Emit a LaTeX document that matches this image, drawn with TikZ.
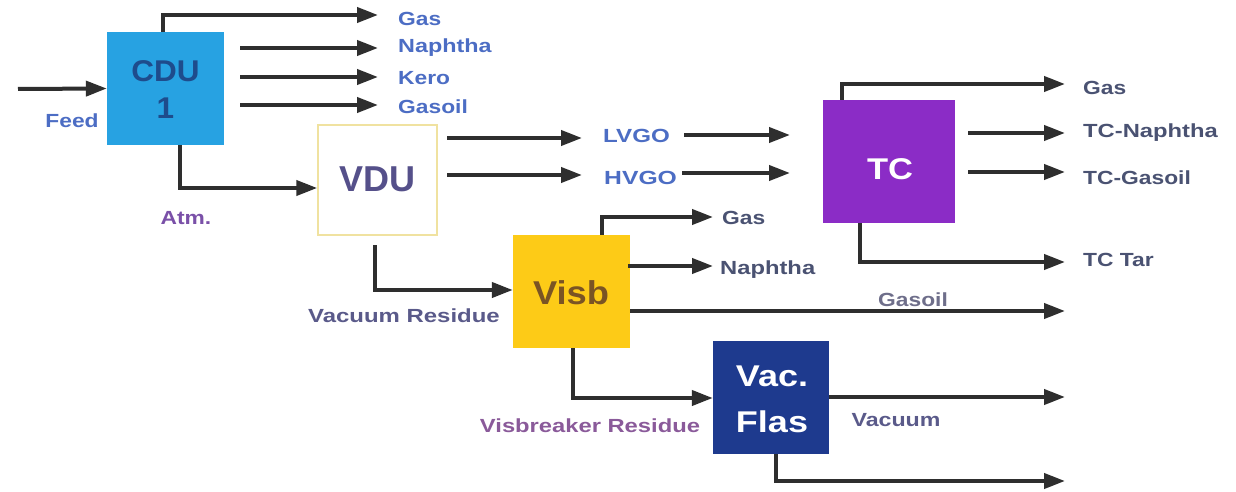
\documentclass[tikz,border=0pt]{standalone}
\usepackage{fontspec}
\setmainfont{Liberation Sans}
\usetikzlibrary{arrows.meta,calc}
\definecolor{arrowc}{HTML}{2E2E2E}
\definecolor{cdufill}{HTML}{27A2E2}
\definecolor{tcfill}{HTML}{8B2CC6}
\definecolor{visbfill}{HTML}{FDCB17}
\definecolor{vacfill}{HTML}{1E3A8E}
\definecolor{vduedge}{HTML}{F0E2A0}
\definecolor{labblue}{HTML}{4C6DC4}
\definecolor{labpurple}{HTML}{7A50A8}
\definecolor{labslate}{HTML}{4A5272}
\definecolor{labgrey}{HTML}{6E6E8A}
\definecolor{labvr}{HTML}{5A5A8A}
\definecolor{labvbr}{HTML}{8A5A9A}
\definecolor{cdutext}{HTML}{1E4C8C}
\definecolor{vdutext}{HTML}{55508A}
\definecolor{visbtext}{HTML}{7A5424}
\newcommand\wtxt[2][1.2]{\scalebox{#1}[1]{#2}}
\begin{document}
\begin{tikzpicture}[x=1pt,y=-1pt,
  flow/.style={line width=4pt, draw=arrowc, -{Triangle[length=21pt,width=15pt]}},
  unitbox/.style={inner sep=0pt, minimum width=#1},
  lab/.style={inner sep=0pt, font=\bfseries\fontsize{19}{21}\selectfont},
  boxlab/.style={inner sep=0pt, align=center, font=\bfseries\fontsize{30}{37}\selectfont}]
\useasboundingbox[fill=white] (0,0) rectangle (1236,492);

% units
\node[unitbox=117pt, minimum height=113pt, fill=cdufill] (cdu) at (165.5,88.5) {};
\node[unitbox=119pt, minimum height=110pt, fill=white, draw=vduedge, line width=1.5pt] (vdu) at (377.5,180) {};
\node[unitbox=132pt, minimum height=123pt, fill=tcfill] (tc) at (889,161.5) {};
\node[unitbox=117pt, minimum height=113pt, fill=visbfill] (visb) at (571.5,291.5) {};
\node[unitbox=116pt, minimum height=113pt, fill=vacfill] (vac) at (771,397.5) {};

% unit texts
\node[boxlab, text=cdutext] (cdutxt) at (165.5,89.5) {\wtxt[1.05]{CDU}\\\wtxt[1.05]{1}};
\node[boxlab, text=vdutext, font=\bfseries\fontsize{36}{40}\selectfont] (vdutxt) at (377.5,179) {VDU};
\node[boxlab, text=white] (tctxt) at (890,169) {\wtxt[1.15]{TC}};
\node[boxlab, text=visbtext, font=\bfseries\fontsize{33}{38}\selectfont] (visbtxt) at (571,293) {\wtxt[1.1]{Visb}};
\node[boxlab, text=white, font=\bfseries\fontsize{30}{46}\selectfont] (vactxt) at (772,399) {\wtxt[1.2]{Vac.}\\\wtxt[1.2]{Flas}};

% free ends
\coordinate (fin) at (18,89);
\coordinate (t1) at (378,15);
\coordinate (s2) at (240,48);  \coordinate (t2) at (378,48);
\coordinate (s3) at (240,77);  \coordinate (t3) at (378,77);
\coordinate (s4) at (240,105); \coordinate (t4) at (378,105);
\coordinate (s5) at (447,138); \coordinate (t5) at (582,138);
\coordinate (s6) at (684,135); \coordinate (t6) at (790,135);
\coordinate (s7) at (447,175); \coordinate (t7) at (582,175);
\coordinate (s8) at (682,173); \coordinate (t8) at (790,173);
\coordinate (t9) at (1065,84);
\coordinate (s10) at (968,133); \coordinate (t10) at (1065,133);
\coordinate (s11) at (968,172); \coordinate (t11) at (1065,172);
\coordinate (t12) at (1065,262);
\coordinate (s13) at (375,245);
\coordinate (t14) at (713,217);
\coordinate (s15) at (628,266); \coordinate (t15) at (713,266);
\coordinate (t16) at (1065,311);
\coordinate (t17) at (1065,397);
\coordinate (t18) at (1065,481);

% connectors
\draw[flow] (fin) -- (cdu.west);
\draw[flow] (cdu.north -| 163,0) |- (t1);
\draw[flow] (s2) -- (t2);
\draw[flow] (s3) -- (t3);
\draw[flow] (s4) -- (t4);
\draw[flow] (cdu.south -| 180,0) |- (vdu.west |- 0,188);
\draw[flow] (s5) -- (t5);
\draw[flow] (s6) -- (t6);
\draw[flow] (s7) -- (t7);
\draw[flow] (s8) -- (t8);
\draw[flow] (tc.north -| 842,0) |- (t9);
\draw[flow] (s10) -- (t10);
\draw[flow] (s11) -- (t11);
\draw[flow] (tc.south -| 860,0) |- (t12);
\draw[flow] (s13) |- (visb.west |- 0,290);
\draw[flow] (visb.north -| 602,0) |- (t14);
\draw[flow] (s15) -- (t15);
\draw[flow] (visb.east |- 0,311) -- (t16);
\draw[flow] (visb.south -| 573,0) |- (vac.west |- 0,398);
\draw[flow] (vac.east |- 0,397) -- (t17);
\draw[flow] (vac.south -| 776,0) |- (t18);

% stream labels
\node[lab, text=labblue] (feed) at (72,121) {\wtxt{Feed}};
\node[lab, text=labblue, anchor=west] (gas1) at (398,19) {\wtxt{Gas}};
\node[lab, text=labblue, anchor=west] (naph1) at (398,48) {\wtxt[1.23]{Naphtha}};
\node[lab, text=labblue, anchor=west] (kero) at (398,78) {\wtxt{Kero}};
\node[lab, text=labblue, anchor=west] (gasoil1) at (398,107) {\wtxt{Gasoil}};
\node[lab, text=labpurple] (atm) at (186,218) {\wtxt{Atm.}};
\node[lab, text=labblue, anchor=west] (lvgo) at (603,136) {\wtxt[1.27]{LVGO}};
\node[lab, text=labblue, anchor=west] (hvgo) at (604,178) {\wtxt[1.3]{HVGO}};
\node[lab, text=labslate, anchor=west] (tcgas) at (1083,88) {\wtxt{Gas}};
\node[lab, text=labslate, anchor=west] (tcnaph) at (1083,133) {\wtxt[1.25]{TC-Naphtha}};
\node[lab, text=labslate, anchor=west] (tcgasoil) at (1083,178) {\wtxt{TC-Gasoil}};
\node[lab, text=labslate, anchor=west] (tctar) at (1083,260) {\wtxt{TC Tar}};
\node[lab, text=labslate, anchor=west] (vgas) at (722,218) {\wtxt{Gas}};
\node[lab, text=labslate, anchor=west] (vnaph) at (720,270) {\wtxt[1.25]{Naphtha}};
\node[lab, text=labgrey] (gasoil2) at (913,300) {\wtxt{Gasoil}};
\node[lab, text=labvr] (vres) at (404,316) {\wtxt[1.26]{Vacuum Residue}};
\node[lab, text=labvbr] (vbres) at (590,426) {\wtxt[1.25]{Visbreaker Residue}};
\node[lab, text=labvr] (vacuum) at (896,420) {\wtxt[1.22]{Vacuum}};
\end{tikzpicture}
\end{document}
